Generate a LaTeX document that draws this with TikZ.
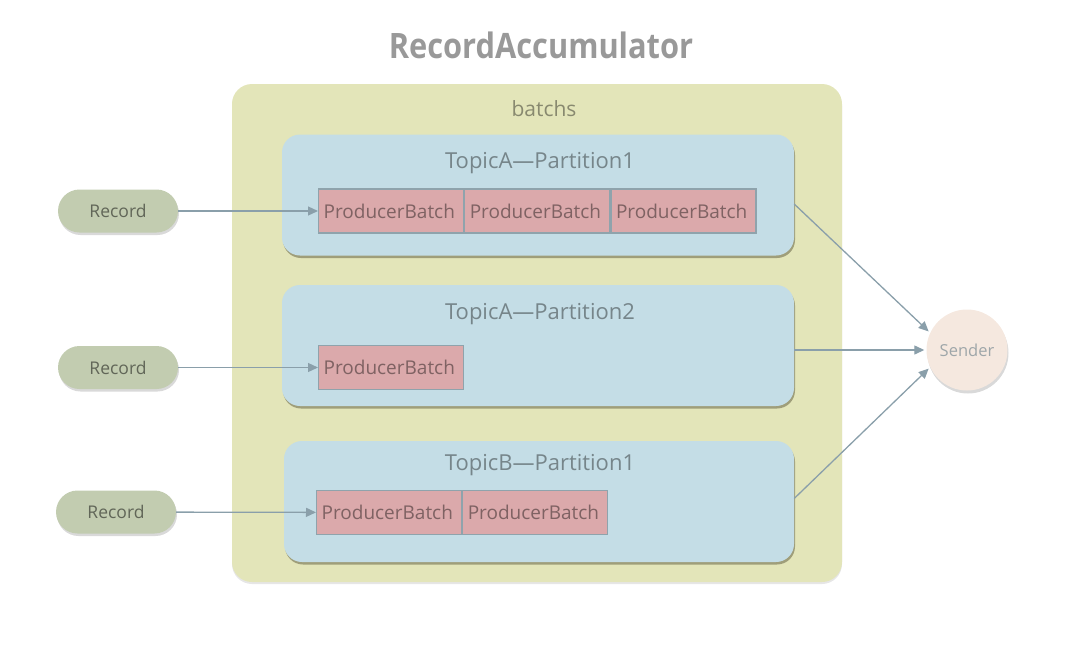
\documentclass[tikz,border=0pt]{standalone}
\usepackage{fontspec}
\setmainfont{Open Sans}
\newfontfamily\titlefont[FakeStretch=0.88]{Open Sans}
\usetikzlibrary{arrows.meta, shadows}

\definecolor{outerfill}{HTML}{E3E5B9}
\definecolor{partfill}{HTML}{C4DDE6}
\definecolor{batchfill}{HTML}{DBA9AB}
\definecolor{batchline}{HTML}{8FA3AC}
\definecolor{recfill}{HTML}{C2CCB0}
\definecolor{sendfill}{HTML}{F5E8DF}
\definecolor{sendtext}{HTML}{9EA6A9}
\definecolor{arrowcol}{HTML}{8A9FAA}

\tikzset{
    partbox/.style={fill=partfill, rounded corners=18pt, minimum width=512pt,
        minimum height=121pt,
        drop shadow={shadow xshift=1pt, shadow yshift=-2.5pt, opacity=0.45, fill=black!60!olive}},
    batchcell/.style={fill=batchfill, draw=batchline, line width=1.2pt, anchor=west,
        text width=135pt, align=left, inner xsep=5pt, minimum height=44pt, inner ysep=0pt,
        text=black!42!batchfill, font=\fontsize{19}{20}\selectfont},
    recordpill/.style={fill=recfill, rounded corners=21.5pt, minimum width=120pt,
        minimum height=43pt, text=black!50!recfill, font=\fontsize{17.5}{20}\selectfont,
        drop shadow={shadow xshift=1pt, shadow yshift=-2.5pt, opacity=0.3}},
    link/.style={draw=arrowcol, line width=1.3pt, -{Triangle[length=10pt, width=9pt]}}
}

\begin{document}
\begin{tikzpicture}[x=1pt, y=-1pt]
    \useasboundingbox (0,0) rectangle (1080,646);
    \node (title) at (541,45) {\titlefont\bfseries\color{black!40}\fontsize{35}{38}\selectfont RecordAccumulator};
    % batchs
    \node[fill=outerfill, rounded corners=20pt, minimum width=610pt, minimum height=498pt,
        drop shadow={shadow xshift=0pt, shadow yshift=-2pt, opacity=0.2}] (outer) at (537,333) {};
    \node[text=black!40!outerfill, font=\fontsize{21}{22}\selectfont] (batchs) at (544,109) {batchs};
    % partitions
    \node[partbox] (p1) at (538,195) {};
    \node[partbox] (p2) at (538,345.5) {};
    \node[partbox, minimum width=510pt] (p3) at (539,501.5) {};
    \foreach \p/\y/\t in {p1/163/TopicA—Partition1, p2/314/TopicA—Partition2, p3/465/TopicB—Partition1}
        \node[text=black!40!partfill, font=\fontsize{22}{24}\selectfont] (\p t) at (540,\y) {\t};
    % producer batches
    \node[batchcell] (b11) at (318,211) {ProducerBatch};
    \node[batchcell] (b12) at (b11.east) {ProducerBatch};
    \node[batchcell] (b13) at (b12.east) {ProducerBatch};
    \node[batchcell] (b21) at (318,367.5) {ProducerBatch};
    \node[batchcell] (b31) at (316,512.5) {ProducerBatch};
    \node[batchcell] (b32) at (b31.east) {ProducerBatch};
    % records
    \node[recordpill] (r1) at (118,211) {Record};
    \node[recordpill] (r2) at (118,367.5) {Record};
    \node[recordpill] (r3) at (116,512) {Record};
    % sender
    \node[circle, fill=sendfill, minimum size=81pt, inner sep=0pt, text=sendtext,
        font=\fontsize{16.5}{20}\selectfont,
        drop shadow={shadow xshift=1pt, shadow yshift=-3pt, opacity=0.3}] (snd) at (967,350) {Sender};
    % links
    \draw[link] (r1) -- (b11);
    \draw[link] (r2) -- (b21);
    \draw[link] (r3) -- (b31);
    \draw[link, shorten >=2pt] ([yshift=-9pt]p1.east) -- (snd.155);
    \draw[link, shorten >=2pt] (p2.east |- snd) -- (snd.west);
    \draw[link, shorten >=2pt] ([yshift=3pt]p3.east) -- (snd.205);
\end{tikzpicture}
\end{document}
